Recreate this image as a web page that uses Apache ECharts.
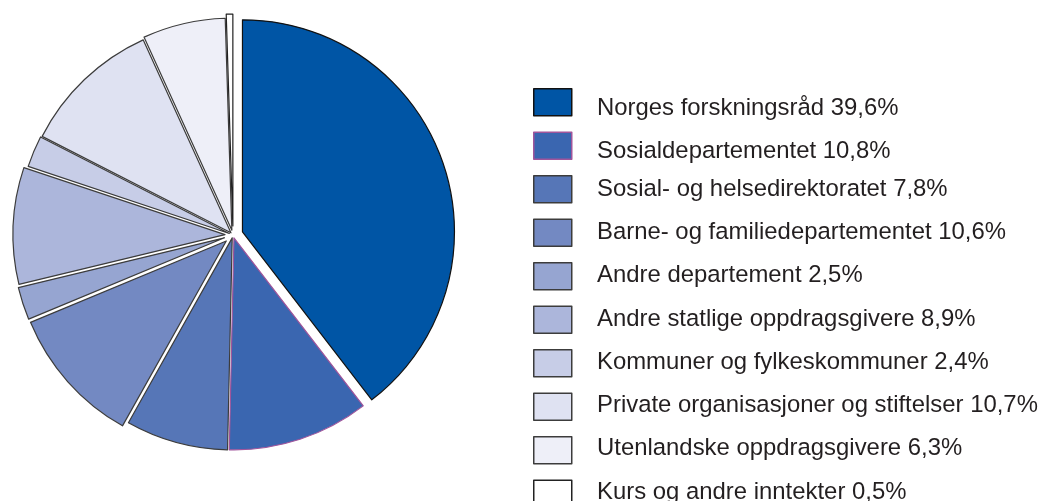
<!DOCTYPE html>
<html>
<head>
<meta charset="utf-8">
<script src="https://cdn.jsdelivr.net/npm/echarts@6/dist/echarts.min.js"></script>
<style>
  html, body { margin: 0; padding: 0; background: #ffffff; }
  #chart { width: 1042px; height: 501px; }
</style>
</head>
<body>
<div id="chart"></div>
<script>
// ---- data ----
const categories = [
  'Norges forskningsråd',
  'Sosialdepartementet',
  'Sosial- og helsedirektoratet',
  'Barne- og familiedepartementet',
  'Andre departement',
  'Andre statlige oppdragsgivere',
  'Kommuner og fylkeskommuner',
  'Private organisasjoner og stiftelser',
  'Utenlandske oppdragsgivere',
  'Kurs og andre inntekter'
];
const shares = [39.6, 10.8, 7.8, 10.6, 2.5, 8.9, 2.4, 10.7, 6.3, 0.5];

// ---- style ----
const colors = ['#0055a5', '#3a66b0', '#5676b7', '#7389c2', '#96a5d1', '#acb6db', '#c7cde7', '#dfe2f2', '#eeeff8', '#ffffff'];
const borders = ['#111111', '#a0559b', '#3c3c3c', '#3c3c3c', '#3c3c3c', '#3c3c3c', '#3c3c3c', '#3c3c3c', '#3c3c3c', '#222222'];
const explode = [10, 3, 3, 9, 9, 8, 4, 3, 5, 9];
const pieCenter = [233, 235];
const pieRadius = 212;

function shareLabel(v) { return v.toFixed(1).replace('.', ',') + '%'; }

const chart = echarts.init(document.getElementById('chart'), null, { renderer: 'canvas' });

const series = categories.map((_, i) => ({
  type: 'pie',
  center: pieCenter,
  radius: pieRadius,
  startAngle: 90,
  clockwise: true,
  silent: true,
  animation: false,
  selectedMode: 'single',
  selectedOffset: explode[i],
  label: { show: false },
  labelLine: { show: false },
  emphasis: { disabled: true },
  select: { itemStyle: { color: colors[i], borderColor: borders[i], borderWidth: 1.2, opacity: 1 } },
  data: categories.map((name, j) => ({
    name: name,
    value: shares[j],
    selected: j === i,
    itemStyle: {
      color: colors[j],
      borderColor: borders[j],
      borderWidth: j === i ? 1.2 : 0,
      opacity: j === i ? 1 : 0
    }
  }))
}));

const legendIcons = {
  orient: 'vertical',
  left: 533,
  top: 88,
  height: 480,
  padding: 0,
  itemWidth: 38,
  itemHeight: 27,
  itemGap: 15,
  icon: 'rect',
  selectedMode: false,
  formatter: () => '',
  textStyle: { fontSize: 8 },
  itemStyle: { opacity: 1, borderWidth: 1.5, borderColor: '#3c3c3c' },
  data: categories.map((name, j) => ({
    name: name,
    itemStyle: { color: colors[j], borderColor: borders[j], borderWidth: 1.5, opacity: 1 }
  }))
};

function textLegend(names, top) {
  return {
    orient: 'vertical',
    left: 554,
    top: top,
    height: 480,
    padding: 0,
    itemWidth: 38,
    itemHeight: 27,
    itemGap: 16.3,
    icon: 'rect',
    selectedMode: false,
    itemStyle: { opacity: 0, borderWidth: 0 },
    formatter: (name) => name + ' ' + shareLabel(shares[categories.indexOf(name)]),
    textStyle: {
      fontFamily: '"Liberation Sans", Arial, Helvetica, sans-serif',
      fontSize: 23.9,
      lineHeight: 27,
      color: '#231f20'
    },
    data: names.map((name) => ({ name: name, itemStyle: { opacity: 0, borderWidth: 0 } }))
  };
}

chart.setOption({
  backgroundColor: '#ffffff',
  animation: false,
  tooltip: { show: false },
  legend: [
    legendIcons,
    textLegend(categories.slice(0, 2), 94.5),
    textLegend(categories.slice(2), 175.6)
  ],
  series: series
});
</script>
</body>
</html>
